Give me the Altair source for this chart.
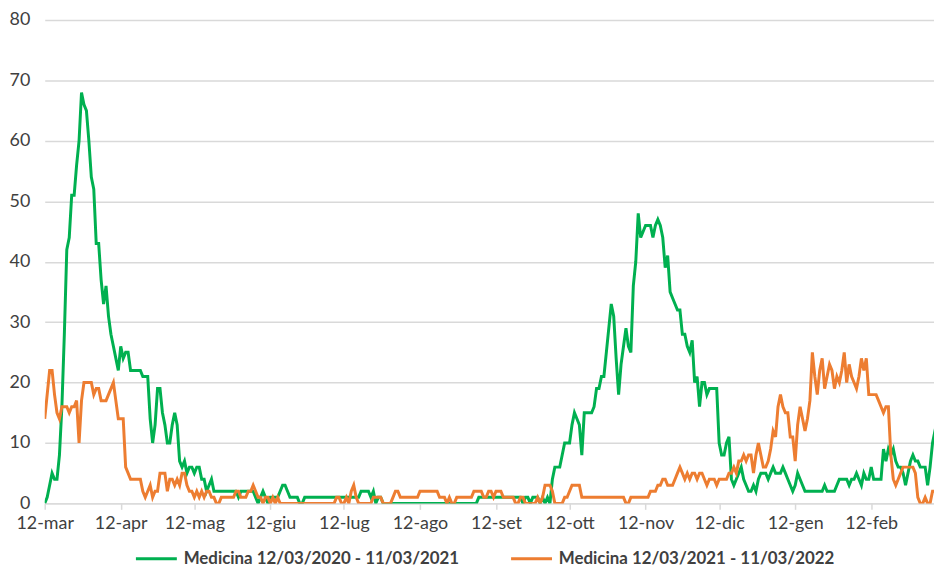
import altair as alt
import pandas as pd

# Daily values, day 0 = 12 March
green = [
    0, 1, 3, 5, 4, 4, 8, 16, 28, 42,
    44, 51, 51, 56, 60, 68, 66, 65, 60, 54,
    52, 43, 43, 37, 33, 36, 31, 28, 26, 24,
    22, 26, 24, 25, 25, 22, 22, 22, 22, 22,
    21, 21, 21, 14, 10, 13, 19, 19, 15, 13,
    10, 10, 13, 15, 13, 7, 6, 7, 5, 6,
    6, 5, 6, 6, 4, 4, 2, 3, 4, 2,
    2, 2, 2, 2, 2, 2, 2, 2, 2, 1,
    2, 2, 2, 2, 2, 2, 1, 0, 1, 2,
    1, 0, 1, 1, 1, 1, 2, 3, 3, 2,
    1, 1, 1, 1, 0, 0, 1, 1, 1, 1,
    1, 1, 1, 1, 1, 1, 1, 1, 1, 1,
    1, 1, 1, 1, 1, 1, 1, 1, 1, 2,
    2, 2, 2, 1, 2, 0, 1, 1, 0, 0,
    0, 0, 0, 0, 0, 0, 0, 0, 0, 0,
    0, 0, 0, 0, 0, 0, 0, 0, 0, 0,
    0, 0, 0, 0, 0, 0, 0, 0, 0, 0,
    0, 0, 0, 0, 0, 0, 0, 1, 1, 1,
    1, 1, 1, 1, 1, 1, 1, 1, 1, 1,
    1, 1, 1, 1, 1, 0, 1, 1, 0, 1,
    1, 1, 0, 1, 0, 1, 0, 4, 6, 6,
    6, 8, 10, 10, 10, 13, 15, 14, 13, 8,
    15, 15, 15, 15, 16, 19, 19, 21, 21, 25,
    29, 33, 31, 24, 18, 23, 26, 29, 26, 25,
    36, 40, 48, 44, 45, 46, 46, 46, 44, 46,
    47, 46, 44, 39, 41, 35, 34, 33, 32, 32,
    28, 28, 26, 25, 27, 20, 21, 16, 20, 20,
    18, 19, 19, 19, 19, 10, 8, 8, 10, 11,
    4, 3, 4, 5, 6, 4, 3, 2, 2, 3,
    2, 4, 5, 5, 5, 4, 5, 6, 5, 5,
    5, 6, 5, 4, 3, 2, 3, 5, 4, 3,
    2, 2, 2, 2, 2, 2, 2, 2, 3, 2,
    2, 2, 2, 3, 4, 4, 4, 4, 3, 4,
    4, 5, 4, 3, 5, 4, 4, 6, 4, 4,
    4, 4, 9, 7, 9, 8, 9, 7, 6, 6,
    5, 3, 5, 7, 8, 7, 7, 6, 6, 6,
    3, 6, 10, 12, 14,
]

orange = [
    14, 18, 22, 22, 18, 15, 14, 16, 16, 16,
    15, 16, 16, 17, 10, 17, 20, 20, 20, 20,
    18, 19, 19, 17, 17, 17, 18, 19, 20, 17,
    14, 14, 14, 6, 5, 4, 4, 4, 4, 4,
    2, 1, 2, 3, 1, 2, 2, 5, 5, 5,
    2, 4, 4, 3, 4, 3, 5, 5, 3, 2,
    2, 1, 2, 1, 2, 1, 2, 2, 1, 1,
    0, 0, 1, 1, 1, 1, 1, 1, 2, 2,
    1, 1, 1, 2, 2, 3, 2, 1, 1, 0,
    1, 1, 0, 1, 0, 1, 0, 0, 0, 0,
    0, 0, 0, 0, 0, 0, 0, 0, 0, 0,
    0, 0, 0, 0, 0, 0, 0, 0, 0, 1,
    1, 0, 0, 1, 0, 2, 3, 1, 0, 0,
    0, 0, 0, 0, 1, 1, 1, 1, 0, 0,
    0, 0, 1, 2, 2, 1, 1, 1, 1, 1,
    1, 1, 1, 2, 2, 2, 2, 2, 2, 2,
    2, 1, 1, 1, 0, 1, 0, 0, 1, 1,
    1, 1, 1, 1, 1, 2, 2, 2, 2, 1,
    1, 2, 2, 1, 2, 2, 2, 1, 1, 1,
    1, 1, 0, 0, 1, 1, 0, 0, 0, 0,
    0, 1, 0, 1, 3, 3, 3, 2, 0, 0,
    0, 0, 1, 1, 2, 3, 3, 3, 3, 1,
    1, 1, 1, 1, 1, 1, 1, 1, 1, 1,
    1, 1, 1, 1, 1, 1, 1, 0, 0, 1,
    1, 1, 1, 1, 1, 1, 1, 2, 2, 2,
    3, 3, 4, 4, 3, 3, 3, 4, 5, 6,
    5, 4, 5, 4, 5, 5, 4, 5, 5, 4,
    3, 4, 4, 4, 3, 4, 4, 4, 4, 5,
    5, 6, 5, 7, 7, 8, 7, 8, 8, 5,
    8, 10, 8, 6, 6, 7, 9, 12, 11, 16,
    18, 16, 15, 15, 11, 11, 7, 13, 16, 14,
    12, 14, 17, 25, 21, 18, 22, 24, 19, 21,
    23, 22, 19, 21, 20, 22, 25, 20, 23, 21,
    20, 19, 21, 24, 22, 24, 18, 18, 18, 18,
    17, 16, 15, 16, 16, 8, 4, 3, 4, 5,
    6, 6, 6, 6, 6, 5, 1, 0, 0, 1,
    0, 0, 2, 2, 2,
]

series_names = ["Medicina 12/03/2020 - 11/03/2021", "Medicina 12/03/2021 - 11/03/2022"]
series_colors = ["#00B050", "#ED7D31"]
tick_days = [0, 31, 61, 92, 122, 153, 184, 214, 245, 275, 306, 337]
tick_labels = ["12-mar", "12-apr", "12-mag", "12-giu", "12-lug", "12-ago",
               "12-set", "12-ott", "12-nov", "12-dic", "12-gen", "12-feb"]
y_ticks = [0, 10, 20, 30, 40, 50, 60, 70, 80]

rows = []
for name, vals in zip(series_names, [green, orange]):
    for d, v in enumerate(vals):
        rows.append({"day": d, "value": v, "series": name})
df = pd.DataFrame(rows)

label_expr = ("[" + ",".join("'%s'" % l for l in tick_labels) + "][indexof(["
              + ",".join(str(t) for t in tick_days) + "], datum.value)]")

FONT = "Lato"

chart = alt.Chart(df).mark_line(strokeWidth=3, clip=True).encode(
    x=alt.X("day:Q",
            scale=alt.Scale(domain=[0, 362.6], nice=False, zero=False),
            axis=alt.Axis(values=tick_days, labelExpr=label_expr, title=None, grid=False,
                          domainColor="#d9d9d9", domainWidth=1.5,
                          tickColor="#d9d9d9", tickSize=6, tickWidth=1.5,
                          labelFont=FONT, labelFontSize=18, labelColor="#404040",
                          labelPadding=5, labelFlush=False)),
    y=alt.Y("value:Q",
            scale=alt.Scale(domain=[0, 80], nice=False),
            axis=alt.Axis(values=y_ticks, title=None, grid=True, gridColor="#d9d9d9",
                          gridWidth=1.5, domain=False, ticks=False,
                          labelFont=FONT, labelFontSize=18, labelColor="#404040",
                          labelPadding=15)),
    color=alt.Color("series:N",
                    scale=alt.Scale(domain=series_names, range=series_colors),
                    legend=alt.Legend(title=None, orient="none", direction="horizontal",
                                      legendX=90, legendY=520,
                                      symbolType="stroke", symbolSize=1700,
                                      symbolStrokeWidth=3,
                                      labelFont=FONT, labelFontSize=17,
                                      labelFontWeight="bold", labelColor="#404040",
                                      columnPadding=45, labelOffset=5, labelLimit=400)),
).properties(
    width=896, height=487,
    padding={"left": 37, "top": 10, "right": 0, "bottom": 64},
    autosize=alt.AutoSizeParams(type="none"),
).configure_view(stroke=None)

chart.save("out.html", embed_options={"renderer": "svg", "actions": False})
